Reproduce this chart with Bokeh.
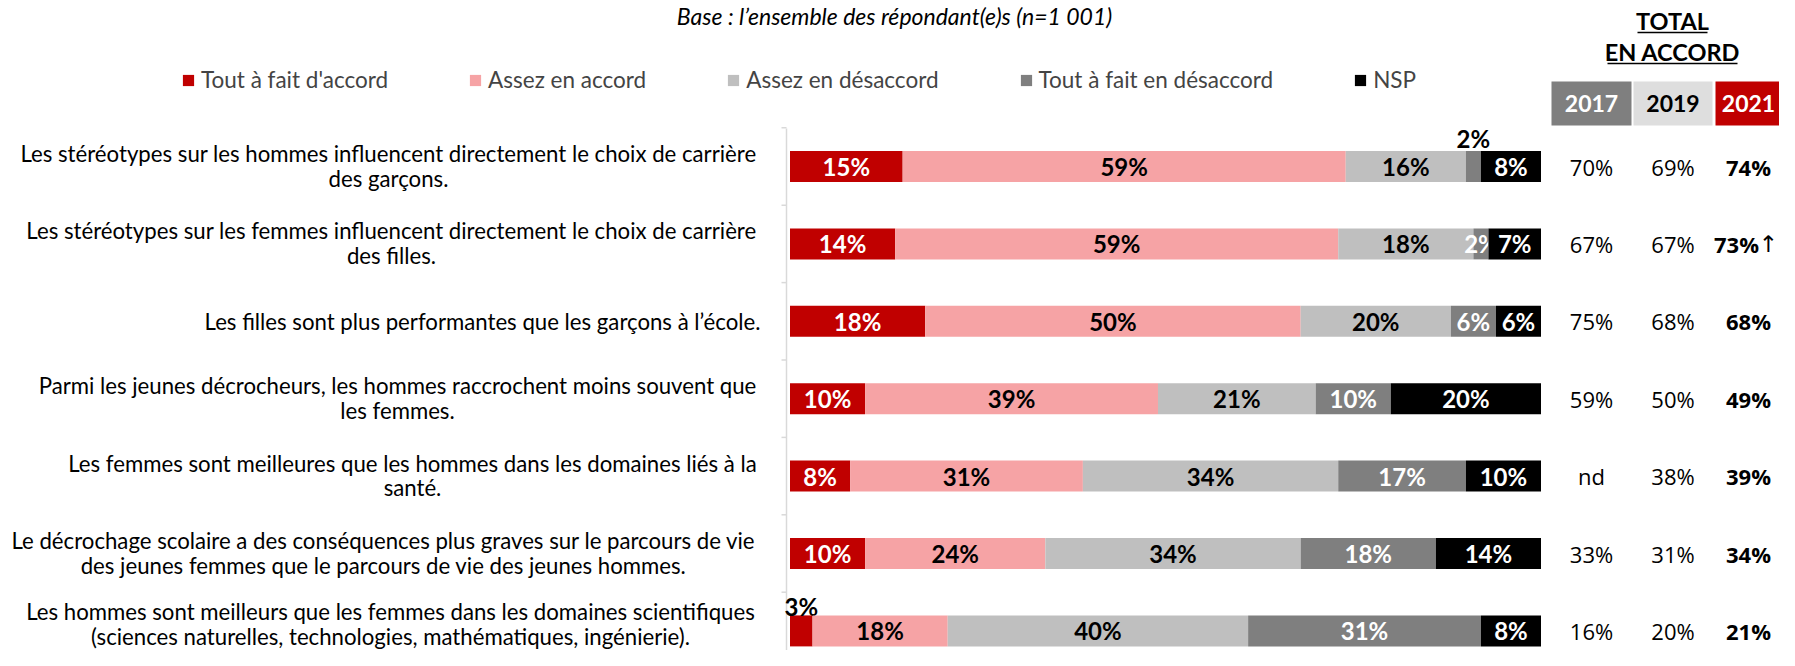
from bokeh.plotting import figure
from bokeh.models import Range1d, ColumnDataSource, Legend, LegendItem
from bokeh.core.properties import value
from bokeh.embed import file_html
from bokeh.resources import INLINE

# ---------------- data ----------------
statements = [
    ["Les stéréotypes sur les hommes influencent directement le choix de carrière", "des garçons."],
    ["Les stéréotypes sur les femmes influencent directement le choix de carrière", "des filles."],
    ["Les filles sont plus performantes que les garçons à l’école."],
    ["Parmi les jeunes décrocheurs, les hommes raccrochent moins souvent que", "les femmes."],
    ["Les femmes sont meilleures que les hommes dans les domaines liés à la", "santé."],
    ["Le décrochage scolaire a des conséquences plus graves sur le parcours de vie",
     "des jeunes femmes que le parcours de vie des jeunes hommes."],
    ["Les hommes sont meilleurs que les femmes dans les domaines scientifiques",
     "(sciences naturelles, technologies, mathématiques, ingénierie)."],
]
series_names = ["Tout à fait d'accord", "Assez en accord", "Assez en désaccord",
                "Tout à fait en désaccord", "NSP"]
tout_accord = [15, 14, 18, 10, 8, 10, 3]
assez_accord = [59, 59, 50, 39, 31, 24, 18]
assez_desaccord = [16, 18, 20, 21, 34, 34, 40]
tout_desaccord = [2, 2, 6, 10, 17, 18, 31]
nsp = [8, 7, 6, 20, 10, 14, 8]
years = ["2017", "2019", "2021"]
total_2017 = [70, 67, 75, 59, None, 33, 16]
total_2019 = [69, 67, 68, 50, 38, 31, 20]
total_2021 = [74, 73, 68, 49, 39, 34, 21]
trend_2021 = ["", "↑", "", "", "", "", ""]
base_text = "Base : l’ensemble des répondant(e)s (n=1 001)"
total_title = ["TOTAL", "EN ACCORD"]

series = [tout_accord, assez_accord, assez_desaccord, tout_desaccord, nsp]

# ---------------- styles / layout ----------------
colors = ["#C00000", "#F6A3A5", "#BFBFBF", "#7F7F7F", "#000000"]
label_colors = ["white", "black", "black", "white", "white"]
label_above = {(3, 0): -28, (0, 6): -24}
year_fill = ["#7F7F7F", "#DEDEDE", "#C00000"]
year_text = ["white", "black", "white"]

W, H = 1779, 650
X0, S = 789.5, 7.51     # px of 0 %, px per %
Y0, R = 166.0, 77.4     # px of first row, px per row


def xd(px):  # px -> data x
    return (px - X0) / S


def yd(py):  # px -> data y
    return (py - Y0) / R


p = figure(width=W, height=H, output_backend="svg", toolbar_location=None,
           x_range=Range1d(-X0 / S, (W - X0) / S),
           y_range=Range1d((H - Y0) / R, -Y0 / R),
           x_axis_type=None, y_axis_type=None, min_border=0,
           outline_line_color=None, background_fill_color="white")
p.grid.visible = False

rows = list(range(len(statements)))
BAR_H = 31 / R
FONT = value("Lato")

# axis line with ticks
p.segment(x0=[xd(786)], x1=[xd(786)], y0=[yd(128)], y1=[yd(680)],
          line_color="#D9D9D9", line_width=1.5)
tick_y = [r - 0.5 for r in rows] + [rows[-1] + 0.5]
p.segment(x0=[xd(781)] * len(tick_y), x1=[xd(786)] * len(tick_y), y0=tick_y, y1=tick_y,
          line_color="#D9D9D9", line_width=1.5)

left = [0] * len(rows)
renderers = []
for k, vals in enumerate(series):
    right = [l + v for l, v in zip(left, vals)]
    src = ColumnDataSource(dict(y=rows, left=left, right=right))
    r = p.hbar(y="y", left="left", right="right", height=BAR_H, source=src,
               fill_color=colors[k], line_color=None)
    renderers.append(r)
    xs, ys, txt, cols = [], [], [], []
    for i, v in enumerate(vals):
        xs.append((left[i] + right[i]) / 2)
        if (k, i) in label_above:
            ys.append(i + label_above[(k, i)] / R)
            cols.append("black")
        else:
            ys.append(i)
            cols.append(label_colors[k])
        txt.append(f"{v}%")
    p.text(x=xs, y=ys, text=txt, text_color=cols, text_font=FONT,
           text_font_size="24px", text_font_style="bold",
           text_align="center", text_baseline="middle")
    left = right

# statement labels
centers = [388, 391, None, 397, 412, 383, 390]
line_shift = [0, 0, 0, 0, 0, 0, -6]
for i, lines in enumerate(statements):
    if len(lines) == 1:
        p.text(x=[xd(760)], y=[i], text=lines, text_font=FONT, text_font_size="22.2px",
               text_align="right", text_baseline="middle", text_color="black")
    else:
        sh = line_shift[i]
        p.text(x=[xd(centers[i])] * 2, y=[i + (sh - 13) / R, i + (sh + 11.5) / R], text=lines,
               text_font=FONT, text_font_size="22.2px",
               text_align="center", text_baseline="middle", text_color="black")

# base text
p.text(x=[xd(894)], y=[yd(15)], text=[base_text], text_font=FONT, text_font_size="23px",
       text_font_style="italic", text_align="center", text_baseline="middle", text_color="black")

# total header
p.text(x=[xd(1672), xd(1672)], y=[yd(20), yd(51)], text=total_title, text_font=FONT,
       text_font_size="23.5px", text_font_style="bold", text_align="center",
       text_baseline="middle", text_color="black")
p.segment(x0=[xd(1637), xd(1607)], x1=[xd(1707), xd(1737)], y0=[yd(32), yd(63)],
          y1=[yd(32), yd(63)], line_color="black", line_width=1.5)

box_l = [1551, 1633, 1715]
box_r = [1631, 1712, 1779]
p.quad(left=[xd(v) for v in box_l], right=[xd(v) for v in box_r],
       top=[yd(81)] * 3, bottom=[yd(125)] * 3, fill_color=year_fill, line_color=None)
col_x = [1591, 1672.5, 1748]
p.text(x=[xd(c) for c in col_x], y=[yd(103)] * 3, text=years, text_color=year_text,
       text_font=FONT, text_font_size="23px", text_font_style="bold",
       text_align="center", text_baseline="middle")

# totals
for j, (vals, bold) in enumerate([(total_2017, False), (total_2019, False), (total_2021, True)]):
    xs, txt = [], []
    for i, v in enumerate(vals):
        s = "nd" if v is None else f"{v}%"
        shift = -12 if (j == 2 and trend_2021[i]) else 0
        xs.append(xd(col_x[j] + shift))
        txt.append(s)
    p.text(x=xs, y=rows, text=txt, text_font=value("Open Sans"),
           text_font_size="22px", text_font_style="bold" if bold else "normal",
           text_align="center", text_baseline="middle", text_color="black")

tr_rows = [i for i, t in enumerate(trend_2021) if t]
p.text(x=[xd(col_x[2] + 10)] * len(tr_rows), y=tr_rows, text=[trend_2021[i] for i in tr_rows],
       text_font=value("DejaVu Sans"), text_font_size="23px", text_align="left",
       text_baseline="middle", text_color="black")

legend = Legend(items=[LegendItem(label=n, renderers=[r]) for n, r in zip(series_names, renderers)],
                orientation="horizontal", location=(181, 557), glyph_width=14, glyph_height=14,
                label_standoff=6, spacing=80, padding=0, margin=0, border_line_color=None,
                background_fill_alpha=0, label_text_font="Lato", label_text_font_size="22.5px",
                label_height=20)
p.add_layout(legend)

open("out.html", "w").write(file_html(p, INLINE))
